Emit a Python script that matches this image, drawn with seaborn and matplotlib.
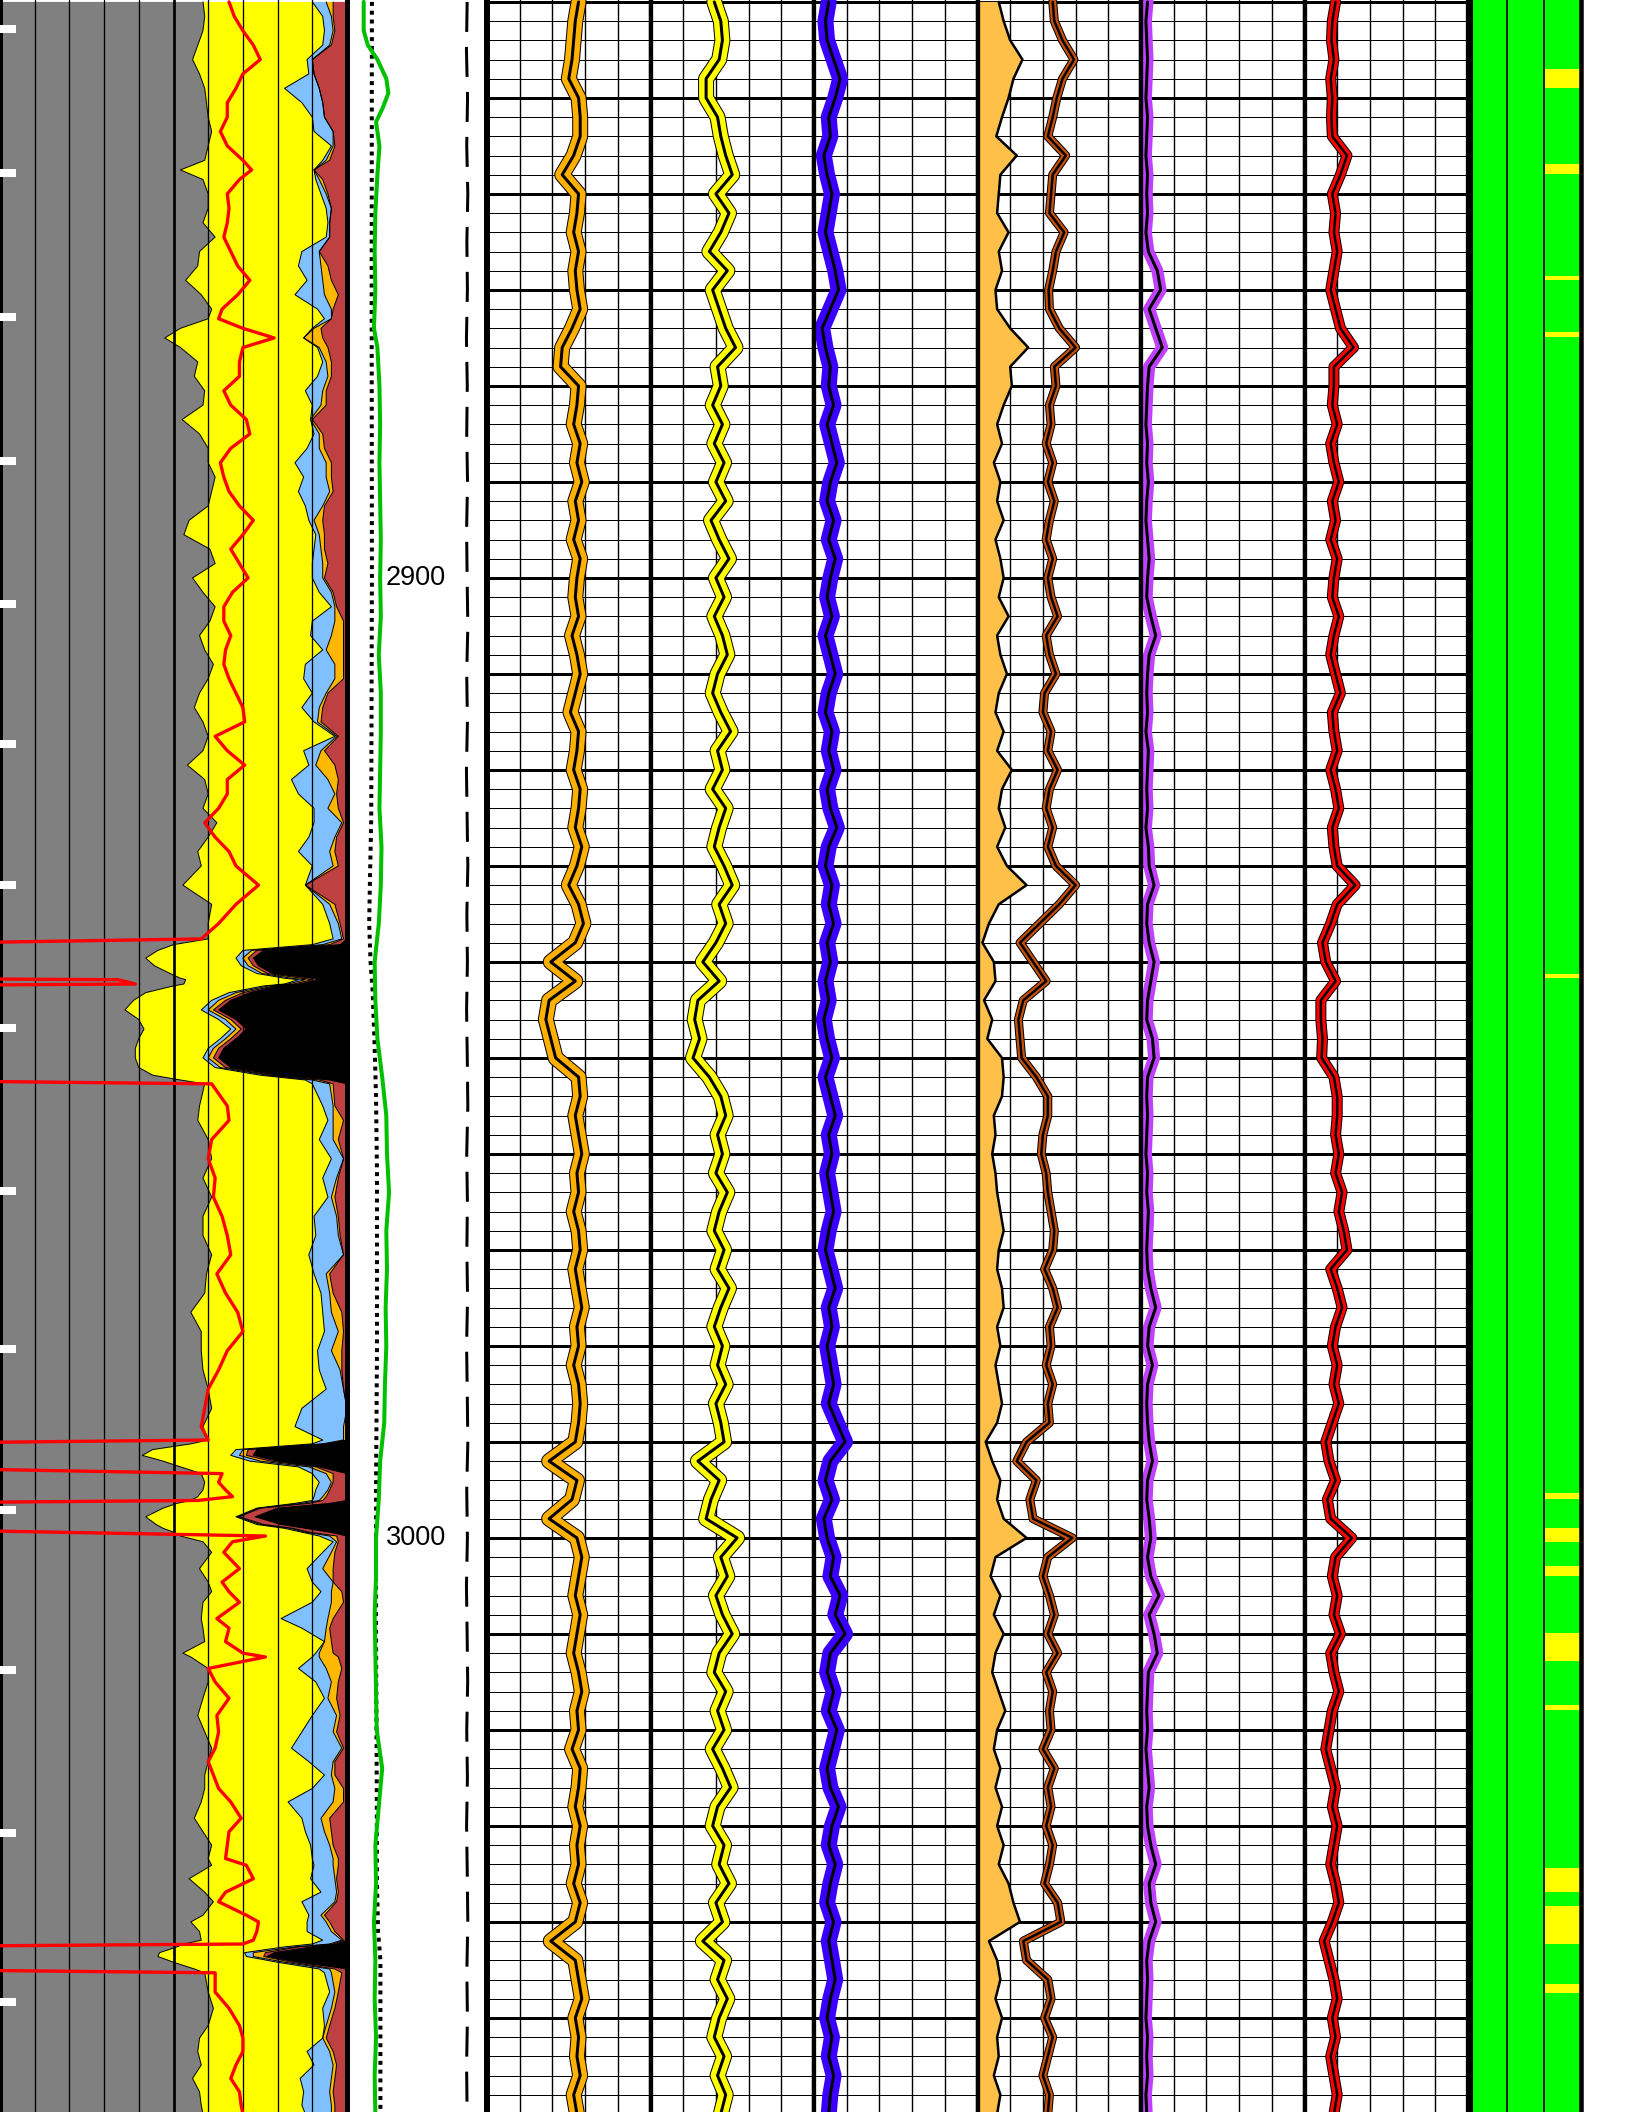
import numpy as np
import matplotlib
matplotlib.use("Agg")
import matplotlib.pyplot as plt
import matplotlib.patheffects as pe
import seaborn as sns

sns.set_theme(style="white")
plt.rcParams["font.family"] = ["Liberation Sans", "DejaVu Sans"]

W, H, DPI = 1632, 2112, 100
PX = 72.0 / DPI          # points per pixel
TOP, BASE = 2839.8, 3059.8

# ---------------- Track 1: volumetric lithology (fractions 0-1) ----------------
t1_depth = [2840.0, 2841.5, 2843.0, 2844.5, 2846.0, 2847.5, 2849.0, 2850.5, 2852.0, 2853.5,
            2855.0, 2856.5, 2857.5, 2858.5, 2860.0, 2861.5, 2863.0, 2864.5, 2866.0, 2867.5,
            2869.0, 2870.5, 2872.0, 2873.0, 2874.0, 2875.0, 2876.0, 2877.5, 2879.0, 2880.5,
            2882.0, 2883.5, 2885.0, 2886.5, 2888.0, 2889.5, 2891.0, 2892.5, 2894.0, 2895.5,
            2897.0, 2898.5, 2900.0, 2901.5,
            2903.0, 2904.5, 2906.0, 2907.5, 2909.0, 2910.5, 2912.0, 2913.5, 2915.0, 2916.5,
            2918.0, 2919.5, 2921.0, 2922.5, 2924.0, 2925.5, 2927.0, 2928.5,
            2930.0, 2932.0, 2934.0, 2936.0, 2937.6,
            2938.2, 2938.8, 2939.6, 2940.4, 2941.2, 2941.7, 2941.85, 2942.3, 2942.5, 2943.2,
            2944.0, 2945.0, 2946.0, 2947.0, 2948.0, 2949.0, 2950.0, 2951.0, 2951.8, 2952.3, 2952.7,
            2955.0, 2956.5, 2958.5, 2960.5, 2962.5, 2964.5, 2966.5, 2968.5, 2970.5, 2972.5,
            2974.5, 2976.5, 2978.5, 2980.5, 2982.5, 2984.5, 2986.5, 2988.4, 2989.8,
            2990.2, 2990.8, 2991.4, 2992.0, 2992.6, 2993.3, 2994.2, 2995.0, 2995.7, 2996.1,
            2996.4, 2996.9, 2997.8, 2998.6, 2999.0, 2999.4, 2999.8, 3000.4, 3001.5,
            3003.2, 3004.6, 3005.6, 3006.7, 3008.4, 3009.4, 3010.8, 3012.0, 3012.4, 3013.6,
            3015.0, 3016.7, 3018.5, 3020.2, 3021.9, 3023.3, 3024.7, 3026.1, 3027.5, 3029.2,
            3030.6, 3032.0, 3033.4,
            3034.1, 3035.5, 3036.9, 3037.9, 3039.3, 3040.0, 3041.0, 3041.9,
            3042.3, 3042.6, 3043.2, 3043.6, 3044.2, 3044.9, 3045.3,
            3047.3, 3049.0, 3050.8, 3052.1, 3053.5, 3054.9, 3056.3, 3057.7, 3059.1, 3060.0]

shale_edge = [.585, .59, .585, .57, .555, .575, .59, .595, .60, .61,
              .60, .59, .52, .585, .60, .60, .585, .62, .575, .57,
              .535, .58, .61, .60, .52, .475, .52, .57, .56, .59,
              .585, .525, .575, .60, .60, .62, .61, .60, .545, .53,
              .605, .62, .555, .585,
              .62, .605, .575, .59, .615, .60, .575, .56, .585, .60,
              .585, .54, .59, .60, .585, .625, .60, .57,
              .58, .527, .61, .60, .60,
              .50, .455, .42, .445, .49, .52, .535, .53, .50, .42,
              .385, .36, .40, .415, .40, .39, .39, .40, .44, .52, .59,
              .575, .57, .60, .61, .585, .61, .585, .585, .61, .595,
              .59, .55, .58, .58, .585, .60, .61, .585, .60,
              .55, .44, .41, .47, .52, .58, .59, .585, .57, .55,
              .51, .47, .42, .45, .47, .50, .52, .585, .61,
              .575, .60, .61, .585, .58, .585, .59, .527, .55, .60,
              .60, .585, .57, .59, .61, .60, .59, .59, .58, .56,
              .585, .61, .60,
              .61, .545, .59, .615, .585, .55, .575, .58,
              .53, .51, .46, .455, .50, .56, .59,
              .60, .615, .60, .575, .57, .58, .555, .575, .58, .585]

sand_edge = [.90, .93, .935, .93, .885, .89, .82, .87, .90, .905,
             .955, .93, .905, .91, .925, .94, .945, .94, .87, .86,
             .885, .85, .915, .935, .90, .875, .915, .93, .915, .88,
             .90, .895, .905, .885, .85, .875, .86, .88, .89, .91,
             .905, .90, .90, .92,
             .955, .90, .895, .93, .88, .875, .90, .87, .905, .965,
             .875, .89, .84, .86, .905, .905, .89, .86,
             .90, .88, .93, .95, .96,
             .90, .70, .68, .695, .74, .82, .86, .82, .76, .66,
             .61, .58, .63, .665, .635, .60, .585, .62, .75, .88, .90,
             .93, .945, .92, .955, .93, .945, .905, .91, .89, .905,
             .925, .93, .935, .915, .92, .94, .87, .85, .93,
             .90, .68, .665, .72, .86, .90, .92, .91, .905, .90,
             .85, .74, .68, .74, .82, .87, .92, .96, .93,
             .885, .90, .925, .90, .81, .87, .935, .91, .90, .86,
             .91, .935, .90, .87, .84, .89, .935, .90, .83, .87,
             .88, .895, .90,
             .905, .895, .925, .87, .89, .885, .885, .93,
             .90, .82, .705, .71, .80, .92, .935,
             .95, .93, .935, .93, .885, .905, .865, .875, .87, .88]

water_edge = [.94, .955, .96, .95, .90, .905, .92, .93, .935, .96,
              .96, .94, .905, .92, .94, .955, .95, .95, .92, .925,
              .93, .935, .955, .955, .905, .875, .92, .94, .945, .93,
              .925, .895, .92, .92, .94, .94, .95, .93, .905, .92,
              .925, .93, .93, .955,
              .965, .965, .955, .94, .965, .965, .94, .92, .915, .97,
              .925, .91, .945, .965, .945, .985, .965, .95,
              .96, .88, .95, .975, .985,
              .93, .725, .70, .715, .755, .84, .88, .83, .775, .68,
              .63, .60, .65, .68, .65, .615, .60, .635, .77, .90, .95,
              .96, .96, .96, .99, .97, .955, .97, .975, .99, .94,
              .95, .955, .975, .955, .98, .99, 1.0, .99, .99,
              .93, .70, .69, .75, .89, .94, .955, .945, .93, .92,
              .87, .745, .685, .75, .835, .88, .95, .97, .955,
              .93, .96, .955, .955, .945, .94, .935, .92, .92, .94,
              .955, .945, .97, .96, .985, .96, .955, .965, .96, .925,
              .935, .95, .96,
              .96, .965, .97, .965, .925, .94, .955, .985,
              .95, .85, .73, .73, .82, .95, .955,
              .965, .955, .94, .93, .95, .96, .955, .95, .955, .955]

oil_edge = [.96, .96, .965, .955, .90, .905, .92, .93, .935, .96,
            .965, .95, .905, .93, .945, .955, .95, .95, .92, .945,
            .955, .975, .96, .955, .925, .93, .945, .955, .955, .94,
            .94, .90, .93, .935, .955, .955, .96, .935, .93, .935,
            .935, .945, .935, .96,
            .97, .99, .99, .99, .99, .99, .945, .93, .925, .975,
            .935, .965, .975, .97, .975, .99, .97, .965,
            .975, .88, .965, .98, .99,
            .95, .74, .715, .73, .77, .87, .90, .845, .79, .70,
            .65, .615, .665, .695, .665, .63, .615, .65, .78, .92, .96,
            .965, .99, .975, .99, .975, .965, .975, .98, .99, .95,
            .96, .985, .99, .985, .985, .99, 1.0, 1.0, 1.0,
            .94, .715, .71, .78, .91, .96, .96, .95, .94, .93,
            .89, .75, .69, .76, .845, .89, .97, .975, .965,
            .96, .96, .985, .99, .96, .95, .955, .96, .975, .985,
            .975, .97, .98, .97, .99, .965, .965, .99, .99, .95,
            .955, .96, .975,
            .975, .97, .975, .97, .935, .95, .965, .99,
            .96, .86, .765, .76, .84, .965, .985,
            .975, .965, .95, .94, .96, .97, .965, .96, .965, .965]

coal_edge = [1.0] * 67 + \
            [.98, .76, .73, .745, .785, .90, .92, .86, .80, .72,
             .665, .63, .68, .71, .68, .645, .63, .665, .80, .95, 1.0] + \
            [1.0] * 19 + \
            [.95, .74, .73, .80, .92, 1.0, 1.0, 1.0, 1.0, 1.0,
             .95, .80, .735, .81, .88, .95, 1.0, 1.0, 1.0] + \
            [1.0] * 31 + \
            [.97, .90, .79, .77, .86, 1.0, 1.0] + \
            [1.0] * 10

res_curve = [.66, .675, .70, .73, .75, .70, .68, .655, .655, .635,
             .655, .70, .725, .69, .655, .66, .655, .645, .665, .685,
             .72, .685, .64, .63, .70, .79, .70, .69, .69, .645,
             .665, .71, .72, .665, .635, .645, .66, .69, .73, .70,
             .665, .69, .715, .67,
             .645, .645, .665, .65, .645, .66, .68, .70, .705, .62,
             .655, .705, .655, .655, .63, .59, .62, .66,
             .68, .745, .68, .63, .58,
             -.45, -.45, -.45, -.45, -.45, -.45, .34, .39, -.45, -.45,
             -.45, -.45, -.45, -.45, -.45, -.45, -.45, -.45, -.45, -.45, .61,
             .655, .66, .61, .60, .62, .615, .64, .655, .665, .625,
             .65, .685, .70, .655, .63, .60, .59, .58, .60,
             -.45, -.45, -.45, -.45, -.45, .64, .63, .65, .67, .57,
             -.45, -.45, -.45, -.45, -.45, .16, .765, .67, .645,
             .69, .64, .66, .69, .625, .66, .65, .70, .765, .60,
             .62, .66, .625, .63, .62, .60, .615, .63, .665, .695,
             .66, .655, .65,
             .71, .73, .65, .63, .71, .745, .74, .73,
             .70, -.45, -.45, -.45, -.45, -.45, .62,
             .62, .66, .69, .70, .70, .68, .665, .69, .695, .70]

marker_depths = [2842.8, 2857.8, 2872.8, 2887.8, 2902.7, 2917.3, 2932.0,
                 2946.9, 2963.9, 2980.3, 2997.1, 3013.8, 3030.7, 3048.3]

# ---------------- Track 2: borehole curves (fraction of track) ----------------
cal_depth = [2840, 2843, 2844.5, 2846, 2848, 2849.5, 2851, 2852.5, 2855, 2858, 2862, 2866,
             2870, 2874, 2876, 2880, 2884, 2888, 2892, 2896, 2900, 2904, 2908, 2912, 2916,
             2920, 2924, 2928, 2932, 2936, 2940, 2944, 2948, 2952, 2956, 2960, 2964, 2968,
             2972, 2976, 2980, 2984, 2988, 2992, 2996, 3000, 3004, 3008, 3012, 3016, 3020,
             3024, 3028, 3032, 3036, 3040, 3044, 3048, 3052, 3056, 3060]
cal_vals = [.10, .10, .13, .20, .265, .28, .24, .19, .215, .20, .185, .18,
            .185, .175, .20, .215, .22, .215, .22, .225, .22, .225, .21, .225, .225,
            .22, .215, .23, .225, .21, .18, .185, .20, .235, .265, .27, .285, .265,
            .27, .26, .265, .255, .25, .22, .21, .19, .19, .18, .185, .19, .195,
            .235, .21, .185, .19, .175, .185, .18, .19, .18, .185]

bit_depth = [2840, 2870, 2900, 2925, 2932, 2936, 2940, 2943, 2948, 2954, 2962, 2980,
             2995, 3010, 3025, 3036, 3041, 3044, 3060]
bit_vals = [.16, .158, .16, .155, .145, .14, .15, .165, .178, .19, .197, .197,
            .19, .19, .195, .197, .205, .222, .222]

ref_depth = list(range(2840, 3061, 5))
ref_vals = [.855, .85, .858, .852, .86, .853, .857, .85, .856, .852, .858, .851, .855, .86, .852,
            .857, .85, .855, .86, .853, .857, .851, .856, .86, .852, .857, .853, .858, .851, .856,
            .86, .852, .857, .85, .855, .859, .852, .857, .851, .856, .86, .853, .857, .851, .855]

depth_labels = [2900, 3000]

# ---------------- Track 3: six gridded curve tracks (scale 0-10) ----------------
log_depth = np.arange(2840, 3061, 2)

curve_a = [5.6, 5.4, 5.3, 5.2, 5.0, 5.6, 5.7, 5.7, 5.3, 4.6,
           5.6, 5.5, 5.3, 5.6, 5.4, 5.5, 5.7, 5.2, 4.6, 4.5,
           5.6, 5.5, 5.3, 5.7, 5.5, 5.8, 5.4, 5.6, 5.3, 5.7,
           5.5, 5.4, 5.6, 5.2, 5.5, 5.7, 5.4, 5.1, 5.6, 5.5,
           5.3, 5.7, 5.6, 5.4, 5.8, 5.5, 5.0, 5.6, 5.9, 5.4,
           3.9, 5.4, 3.8, 3.6, 3.9, 4.2, 5.6, 5.7, 5.4, 5.6,
           5.8, 5.5, 5.6, 5.3, 5.6, 5.7, 5.4, 5.6, 5.8, 5.5,
           5.6, 5.3, 5.6, 5.7, 5.6, 5.4, 3.8, 5.5, 5.2, 3.8,
           5.5, 5.8, 5.6, 5.4, 5.7, 5.5, 5.3, 5.6, 5.8, 5.5,
           5.6, 5.2, 5.7, 5.6, 5.4, 5.7, 5.5, 5.6, 5.3, 5.7,
           5.4, 3.9, 5.4, 5.6, 5.8, 5.4, 5.6, 5.5, 5.7, 5.3,
           5.5]

curve_b = [3.9, 4.3, 4.4, 4.2, 3.4, 3.4, 4.1, 4.3, 4.6, 5.0,
           4.0, 4.8, 4.3, 3.6, 4.7, 3.8, 4.2, 4.6, 5.2, 4.1,
           4.3, 3.8, 4.4, 3.9, 4.5, 4.0, 4.6, 3.7, 4.2, 4.8,
           4.0, 4.5, 3.9, 4.4, 4.7, 4.1, 3.8, 4.3, 4.9, 4.1,
           4.4, 3.8, 4.6, 4.2, 3.9, 4.5, 5.0, 4.2, 4.6, 4.0,
           3.2, 4.2, 2.9, 2.7, 3.0, 2.6, 3.6, 4.3, 4.6, 4.1,
           4.4, 4.0, 4.7, 4.2, 3.9, 4.5, 4.1, 4.8, 4.3, 3.9,
           4.4, 4.1, 4.6, 4.0, 4.3, 4.5, 2.9, 4.2, 3.7, 3.4,
           5.3, 4.3, 4.7, 4.0, 4.4, 5.0, 4.2, 3.9, 4.6, 4.1,
           4.5, 3.8, 4.4, 4.9, 4.1, 3.8, 4.5, 4.2, 4.8, 4.0,
           4.4, 3.2, 4.5, 4.1, 4.7, 4.2, 3.9, 4.5, 4.1, 4.6,
           4.3]

curve_c = [0.9, 0.7, 0.8, 1.2, 1.6, 1.3, 0.9, 1.0, 0.6, 0.8,
           1.1, 0.9, 0.7, 1.0, 1.3, 1.5, 1.0, 0.5, 0.7, 1.0,
           0.9, 1.2, 0.8, 1.1, 1.4, 1.0, 0.8, 1.2, 0.9, 1.3,
           1.0, 0.8, 1.1, 0.7, 1.0, 1.3, 0.9, 0.7, 1.1, 0.9,
           1.2, 0.8, 1.0, 1.4, 0.9, 0.7, 1.1, 0.9, 1.2, 0.8,
           1.0, 0.7, 0.9, 0.6, 0.8, 1.1, 0.7, 1.0, 1.3, 0.9,
           1.1, 0.8, 1.0, 1.2, 0.9, 0.7, 1.0, 1.3, 0.9, 1.1,
           0.8, 1.0, 1.2, 0.9, 1.4, 1.9, 1.0, 0.7, 1.1, 0.6,
           0.8, 1.2, 1.0, 1.6, 1.3, 1.9, 1.0, 0.8, 1.2, 0.9,
           1.4, 1.1, 0.8, 1.0, 1.5, 1.1, 0.9, 1.3, 1.0, 0.8,
           1.2, 0.9, 1.1, 1.3, 1.0, 0.8, 1.1, 0.9, 1.2, 1.0,
           0.9]

curve_d_fill = [1.3, 1.6, 2.0, 2.75, 2.2, 1.9, 1.5, 1.15, 2.4, 1.4,
                1.3, 1.2, 1.9, 1.3, 1.5, 1.1, 1.2, 2.0, 3.1, 2.0,
                2.1, 1.6, 1.2, 1.5, 1.0, 1.4, 1.2, 1.6, 1.1, 1.4,
                1.6, 1.3, 1.9, 1.2, 1.4, 1.8, 1.3, 1.1, 1.6, 1.2,
                2.1, 1.5, 1.3, 1.7, 1.2, 1.8, 3.0, 1.3, 0.7, 0.3,
                1.0, 1.1, 0.4, 0.9, 0.6, 1.5, 1.6, 1.5, 1.0, 1.1,
                0.9, 1.1, 1.2, 1.4, 1.6, 1.3, 1.2, 1.5, 1.6, 1.2,
                1.4, 1.1, 1.3, 1.5, 1.2, 0.5, 0.9, 1.4, 1.2, 1.6,
                3.0, 1.1, 0.8, 1.4, 1.0, 1.6, 1.1, 0.9, 1.3, 1.7,
                1.2, 1.0, 1.4, 1.1, 1.5, 1.2, 1.6, 1.3, 1.9, 2.2,
                2.6, 0.7, 1.2, 1.4, 1.1, 1.5, 1.2, 1.3, 1.0, 1.4,
                1.2]

curve_d_line = [4.6, 4.7, 5.2, 5.9, 5.2, 4.85, 4.6, 4.3, 5.4, 4.6,
                4.5, 4.4, 5.3, 4.8, 4.6, 4.35, 4.4, 5.0, 6.0, 4.7,
                4.8, 4.4, 4.5, 4.2, 4.6, 4.3, 4.7, 4.4, 4.2, 4.6,
                4.3, 4.5, 4.9, 4.2, 4.4, 4.8, 4.1, 4.0, 4.5, 4.3,
                4.9, 4.4, 4.2, 4.6, 4.3, 4.8, 6.0, 5.0, 3.8, 2.6,
                3.4, 4.2, 2.8, 2.5, 2.6, 2.7, 3.6, 4.3, 4.3, 4.0,
                3.9, 4.2, 4.3, 4.5, 4.7, 4.6, 4.1, 4.6, 4.9, 4.4,
                4.5, 4.2, 4.6, 4.3, 4.4, 3.0, 2.4, 3.6, 3.2, 3.4,
                5.8, 4.3, 4.0, 4.4, 4.7, 4.3, 4.9, 4.2, 4.6, 4.4,
                4.5, 4.0, 4.7, 4.3, 4.5, 4.2, 4.6, 4.4, 4.1, 4.9,
                5.1, 2.8, 3.0, 4.3, 4.5, 4.1, 4.6, 4.3, 4.0, 4.4,
                4.3]

curve_e = [0.4, 0.3, 0.35, 0.4, 0.35, 0.3, 0.4, 0.35, 0.3, 0.4,
           0.35, 0.4, 0.3, 0.45, 1.0, 1.2, 0.5, 0.9, 1.3, 0.5,
           0.4, 0.35, 0.3, 0.4, 0.35, 0.45, 0.35, 0.3, 0.4, 0.5,
           0.4, 0.35, 0.6, 0.9, 0.5, 0.4, 0.35, 0.4, 0.3, 0.45,
           0.4, 0.35, 0.4, 0.3, 0.45, 0.5, 0.8, 0.4, 0.35, 0.5,
           0.8, 0.6, 0.4, 0.35, 0.7, 0.8, 0.4, 0.35, 0.4, 0.35,
           0.3, 0.4, 0.35, 0.45, 0.4, 0.35, 0.4, 0.6, 0.9, 0.5,
           0.4, 0.7, 0.4, 0.35, 0.4, 0.5, 0.7, 0.4, 0.35, 0.5,
           0.6, 0.4, 0.6, 1.1, 0.5, 0.8, 1.0, 0.45, 0.4, 0.35,
           0.4, 0.3, 0.4, 0.5, 0.35, 0.4, 0.6, 0.9, 0.5, 0.6,
           0.9, 0.5, 0.35, 0.4, 0.35, 0.3, 0.4, 0.35, 0.4, 0.3,
           0.35]

curve_f = [1.9, 1.7, 1.65, 1.8, 1.6, 1.7, 1.65, 1.7, 2.6, 2.2,
           1.7, 1.9, 1.8, 2.0, 1.8, 1.6, 1.9, 2.2, 3.0, 1.8,
           1.8, 1.7, 2.0, 1.6, 1.8, 2.1, 1.7, 1.9, 1.6, 2.0,
           1.8, 1.7, 2.1, 1.8, 1.6, 1.9, 2.2, 1.7, 1.8, 2.0,
           1.6, 1.9, 2.1, 1.7, 1.8, 2.0, 3.1, 2.0, 1.6, 1.1,
           1.3, 1.9, 1.0, 1.0, 1.1, 1.05, 1.8, 2.0, 2.0, 1.9,
           2.1, 1.9, 2.3, 2.1, 2.4, 2.6, 1.6, 2.0, 2.3, 1.9,
           1.7, 2.0, 1.8, 2.1, 1.7, 1.3, 1.5, 1.9, 1.4, 1.6,
           2.9, 1.9, 1.7, 2.0, 1.8, 2.2, 1.6, 1.8, 2.1, 1.7,
           1.5, 1.3, 1.6, 1.9, 1.7, 2.0, 1.8, 1.6, 1.9, 2.1,
           1.7, 1.2, 1.5, 1.8, 2.0, 1.7, 1.9, 1.6, 1.8, 2.0,
           1.8]

# ---------------- Track 4: flag column intervals ----------------
flag_top = [2847.0, 2856.9, 2868.5, 2874.4, 2941.25, 2995.3, 2999.0, 3002.9, 3009.9,
            3017.4, 3034.4, 3038.3, 3046.5]
flag_base = [2849.0, 2857.9, 2869.0, 2874.9, 2941.7, 2995.9, 3000.4, 3004.0, 3012.8,
             3017.9, 3036.9, 3042.3, 3047.4]

for name, arr in [("shale", shale_edge), ("sand", sand_edge), ("water", water_edge),
                  ("oil", oil_edge), ("coal", coal_edge), ("res", res_curve)]:
    if len(arr) != len(t1_depth):
        raise ValueError(f"{name}: {len(arr)} vs {len(t1_depth)}")
for name, arr in [("a", curve_a), ("b", curve_b), ("c", curve_c), ("dfill", curve_d_fill),
                  ("dline", curve_d_line), ("e", curve_e), ("f", curve_f)]:
    if len(arr) != len(log_depth):
        raise ValueError(f"curve {name}: {len(arr)} vs {len(log_depth)}")

fig = plt.figure(figsize=(W / DPI, H / DPI), dpi=DPI)
fig.patch.set_facecolor("white")


def add_track(x0, x1):
    ax = fig.add_axes([x0 / W, 0, (x1 - x0) / W, 1])
    ax.set_facecolor("white")
    for s in ax.spines.values():
        s.set_visible(False)
    return ax


def finish(ax, xlim):
    ax.set_xlim(*xlim)
    ax.set_ylim(BASE, TOP)
    ax.set_xlabel("")
    ax.set_ylabel("")
    ax.tick_params(which="both", left=False, bottom=False, labelleft=False,
                   labelbottom=False, length=0)


def curve(ax, x, y, color, lw_px, z=4, **kw):
    sns.lineplot(x=np.asarray(x), y=np.asarray(y), orient="y", sort=False, estimator=None,
                 ax=ax, color=color, linewidth=lw_px * PX, legend=False, zorder=z, **kw)


def band(ax, x, y, color, band_px, core_px, edge=True):
    effects = []
    if edge:
        effects.append(pe.Stroke(linewidth=(band_px + 2) * PX, foreground="black"))
    effects.append(pe.Stroke(linewidth=band_px * PX, foreground=color))
    effects.append(pe.Normal())
    curve(ax, x, y, "black", core_px, z=5, path_effects=effects,
          solid_joinstyle="round", solid_capstyle="round")


# ---------- Track 1 ----------
ax1 = add_track(0, 347)
d1 = np.array(t1_depth)
sh, sa, wa, oi, co = map(np.array, (shale_edge, sand_edge, water_edge, oil_edge, coal_edge))
ax1.fill_betweenx(d1, 0, sh, color="#808080", lw=0, zorder=1)
ax1.fill_betweenx(d1, sh, sa, color="#FFFF00", lw=0, zorder=1)
ax1.fill_betweenx(d1, sa, wa, color="#80C0FF", lw=0, zorder=1)
ax1.fill_betweenx(d1, wa, oi, color="#FFB800", lw=0, zorder=1)
ax1.fill_betweenx(d1, oi, 1.0, color="#BF4040", lw=0, zorder=1)
ax1.fill_betweenx(d1, co, 1.0, color="black", lw=0, zorder=1.5)
for v in np.arange(0.1, 0.95, 0.1):
    ax1.axvline(v, color="black", lw=(2.7 if abs(v - 0.5) < 1e-6 else 1.3) * PX, zorder=2)
for edge in (sh, sa, wa, oi, co):
    curve(ax1, edge, d1, "black", 1.0, z=3, solid_joinstyle="round")
curve(ax1, res_curve, d1, "#FF0000", 3.3, z=4, solid_joinstyle="round")
ax1.spines["right"].set_visible(True)
ax1.spines["right"].set_linewidth(5 * PX)
ax1.spines["right"].set_color("black")
ax1.spines["left"].set_visible(True)
ax1.spines["left"].set_linewidth(6 * PX)
ax1.spines["left"].set_color("black")
ax1.hlines(marker_depths, 0, 0.045, color="white", lw=8 * PX, zorder=6, clip_on=False)
finish(ax1, (0, 1))

# ---------- Track 2 ----------
ax2 = add_track(350, 487)
curve(ax2, bit_vals, bit_depth, "black", 4.0, z=3, linestyle=(0, (1.0, 1.2)))
curve(ax2, cal_vals, cal_depth, "#00C000", 4.0, z=4, solid_joinstyle="round")
curve(ax2, ref_vals, ref_depth, "black", 3.0, z=3, linestyle=(0, (10, 5)))
for dl in depth_labels:
    ax2.text(0.263, dl, str(dl), fontsize=19.5, ha="left", va="center", color="black",
             family=["Liberation Sans", "DejaVu Sans"], zorder=6)
finish(ax2, (0, 1))

# ---------- Track 3 ----------
sub_w = (1468 - 487) / 6.0
specs = [
    ("band", curve_a, "#FFB000", 14, 3.0, True),
    ("band", curve_b, "#FFFF00", 14, 3.0, True),
    ("band", curve_c, "#3A00FF", 16, 3.0, False),
    ("fill", None, None, None, None, None),
    ("band", curve_e, "#C040FF", 12, 3.0, False),
    ("band", curve_f, "#FF0000", 9, 2.5, True),
]
for i, spec in enumerate(specs):
    x0 = 487 + i * sub_w
    ax = add_track(x0, x0 + sub_w)
    ax.set_xlim(0, 10)
    ax.set_ylim(BASE, TOP)
    ax.set_xticks([2, 4, 6, 8])
    ax.set_yticks(np.arange(2840, 3061, 10))
    ax.set_yticks(np.arange(2840, 3061, 2), minor=True)
    ax.grid(True, which="minor", axis="y", color="black", lw=1.0 * PX)
    ax.grid(True, which="major", axis="y", color="black", lw=3.0 * PX)
    ax.grid(True, which="major", axis="x", color="black", lw=1.4 * PX)
    ax.set_axisbelow(True)
    for side in ("left", "right"):
        ax.spines[side].set_visible(True)
        ax.spines[side].set_color("black")
        ax.spines[side].set_linewidth(4.3 * PX)
        ax.spines[side].set_zorder(6)
    if i == 0:
        ax.spines["left"].set_linewidth(6 * PX)
    if spec[0] == "band":
        _, vals, col, bw, cw, edge = spec
        band(ax, vals, log_depth, col, bw, cw, edge)
    else:
        ax.fill_betweenx(log_depth, 0, curve_d_fill, color="#FFC04A", lw=0, zorder=3)
        curve(ax, curve_d_fill, log_depth, "black", 2.5, z=4, solid_joinstyle="round")
        band(ax, curve_d_line, log_depth, "#C8500A", 7, 2.5, True)
    finish(ax, (0, 10))

# ---------- Track 4 ----------
ax4 = add_track(1470, 1581)
ax4.axvspan(0, 3, color="#00FF00", lw=0, zorder=1)
ax4.barh(y=[(t + b) / 2 for t, b in zip(flag_top, flag_base)],
         width=1.0, left=2.0,
         height=[b - t for t, b in zip(flag_top, flag_base)],
         color="#FFFF00", lw=0, zorder=2)
for v in (1, 2):
    ax4.axvline(v, color="#222222", lw=2.0 * PX, zorder=3)
for side, w in (("left", 6), ("right", 4.5)):
    ax4.spines[side].set_visible(True)
    ax4.spines[side].set_color("black")
    ax4.spines[side].set_linewidth(w * PX)
finish(ax4, (0, 3))

fig.savefig("out.png", dpi=DPI, facecolor="white")
